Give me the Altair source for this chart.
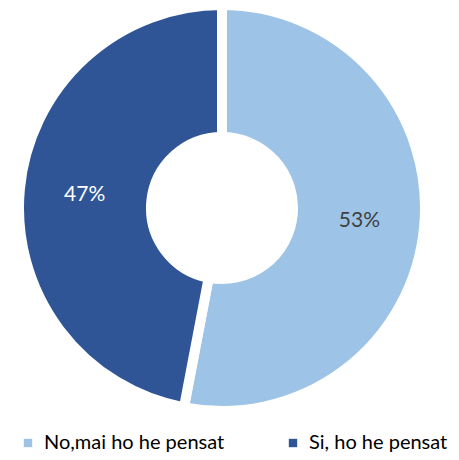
import altair as alt
import pandas as pd

categories = ["No,mai ho he pensat", "Si, ho he pensat"]
values = [53, 47]
labels = ["53%", "47%"]
order = [1, 2]

df = pd.DataFrame({"category": categories, "value": values, "label": labels, "order": order})

colors = ["#9DC3E6", "#2F5597"]
font = "Lato"

base = alt.Chart(df).encode(
    theta=alt.Theta("value:Q", stack=True),
    order=alt.Order("order:Q"),
    x=alt.value(214),
    y=alt.value(200),
)

arcs = base.mark_arc(outerRadius=203, innerRadius=71, stroke="white", strokeWidth=10).encode(
    color=alt.Color(
        "category:N",
        scale=alt.Scale(domain=categories, range=colors),
        legend=alt.Legend(
            title=None,
            orient="none",
            legendX=10,
            legendY=425,
            direction="horizontal",
            symbolType="square",
            symbolSize=70,
            symbolStrokeWidth=0,
            labelFont=font,
            labelFontSize=20,
            labelColor="#000000",
            labelLimit=0,
            columnPadding=58,
            labelOffset=6,
        ),
    )
)

text = base.mark_text(radius=138, font=font, fontSize=21).encode(
    text="label:N",
    color=alt.condition("datum.category === 'Si, ho he pensat'", alt.value("white"), alt.value("#404040")),
)

chart = (arcs + text).properties(
    width=443,
    height=444,
    padding=0,
    autosize=alt.AutoSizeParams(type="none"),
).configure_view(stroke=None)

chart.save("out.html", embed_options={"renderer": "svg", "actions": False})
